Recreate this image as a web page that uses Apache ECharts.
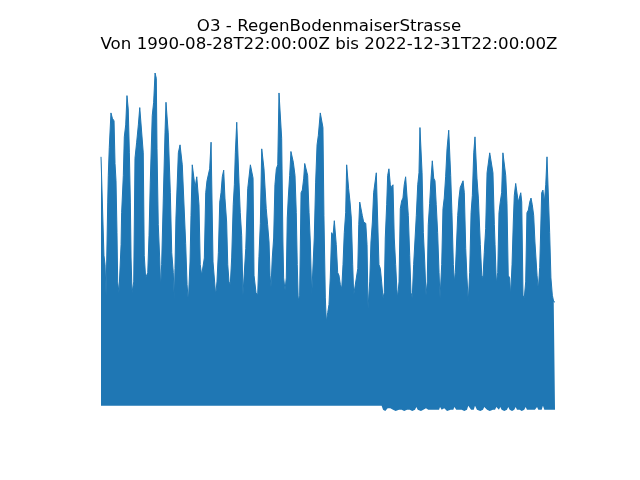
<!DOCTYPE html>
<html>
<head>
<meta charset="utf-8">
<title>O3 - RegenBodenmaiserStrasse</title>
<script src="https://cdn.jsdelivr.net/npm/echarts@6/dist/echarts.min.js"></script>
<style>
  html, body { margin: 0; padding: 0; background: #fff; }
  #chart { width: 640px; height: 480px; }
</style>
</head>
<body>
<div id="chart"></div>
<script>
var years = [
  1990.66, 1990.75, 1990.87, 1990.95, 1991.02, 1991.09, 1991.14, 1991.18, 1991.25, 1991.37,
  1991.47, 1991.59, 1991.66, 1991.73, 1991.80, 1991.85, 1991.94, 1992.01, 1992.09, 1992.13,
  1992.25, 1992.32, 1992.42, 1992.51, 1992.60, 1992.68, 1992.75, 1992.80, 1992.87, 1992.99,
  1993.08, 1993.20, 1993.32, 1993.42, 1993.56, 1993.67, 1993.74, 1993.84, 1993.99, 1994.08,
  1994.17, 1994.31, 1994.41, 1994.51, 1994.60, 1994.65, 1994.74, 1994.84, 1994.91, 1994.98,
  1995.10, 1995.22, 1995.29, 1995.38, 1995.45, 1995.60, 1995.70, 1995.81, 1995.88, 1995.93,
  1996.00, 1996.12, 1996.17, 1996.29, 1996.41, 1996.45, 1996.59, 1996.69, 1996.79, 1996.88,
  1997.00, 1997.07, 1997.16, 1997.26, 1997.36, 1997.48, 1997.59, 1997.64, 1997.73, 1997.83,
  1997.93, 1998.02, 1998.12, 1998.21, 1998.30, 1998.40, 1998.50, 1998.57, 1998.64, 1998.73,
  1998.83, 1998.92, 1999.02, 1999.12, 1999.21, 1999.30, 1999.40, 1999.49, 1999.61, 1999.69,
  1999.78, 1999.87, 1999.97, 2000.08, 2000.16, 2000.23, 2000.33, 2000.42, 2000.49, 2000.58,
  2000.68, 2000.77, 2000.87, 2000.97, 2001.11, 2001.20, 2001.30, 2001.39, 2001.49, 2001.56,
  2001.63, 2001.70, 2001.82, 2001.91, 2002.01, 2002.11, 2002.20, 2002.27, 2002.36, 2002.43,
  2002.53, 2002.63, 2002.70, 2002.77, 2002.86, 2002.96, 2003.05, 2003.15, 2003.25, 2003.34,
  2003.46, 2003.53, 2003.62, 2003.67, 2003.77, 2003.86, 2003.93, 2004.00, 2004.10, 2004.19,
  2004.29, 2004.36, 2004.48, 2004.57, 2004.64, 2004.71, 2004.81, 2004.91, 2005.00, 2005.10,
  2005.17, 2005.28, 2005.38, 2005.48, 2005.57, 2005.67, 2005.76, 2005.85, 2005.95, 2006.05,
  2006.14, 2006.28, 2006.40, 2006.47, 2006.54, 2006.64, 2006.71, 2006.81, 2006.90, 2006.99,
  2007.09, 2007.19, 2007.28, 2007.42, 2007.52, 2007.61, 2007.71, 2007.81, 2007.90, 2007.99,
  2008.09, 2008.16, 2008.23, 2008.30, 2008.40, 2008.49, 2008.59, 2008.66, 2008.80, 2008.95,
  2009.02, 2009.09, 2009.18, 2009.27, 2009.37, 2009.52, 2009.61, 2009.68, 2009.80, 2009.89,
  2009.99, 2010.08, 2010.18, 2010.27, 2010.37, 2010.46, 2010.56, 2010.65, 2010.75, 2010.84,
  2010.91, 2011.01, 2011.08, 2011.17, 2011.27, 2011.37, 2011.46, 2011.55, 2011.65, 2011.74,
  2011.79, 2011.89, 2011.98, 2012.08, 2012.17, 2012.26, 2012.36, 2012.46, 2012.55, 2012.65,
  2012.74, 2012.83, 2012.93, 2013.03, 2013.12, 2013.22, 2013.31, 2013.38, 2013.45, 2013.53,
  2013.62, 2013.72, 2013.81, 2013.90, 2013.97, 2014.07, 2014.17, 2014.26, 2014.36, 2014.45,
  2014.54, 2014.64, 2014.74, 2014.81, 2014.93, 2015.02, 2015.11, 2015.21, 2015.31, 2015.43,
  2015.50, 2015.57, 2015.66, 2015.76, 2015.83, 2015.90, 2015.97, 2016.07, 2016.16, 2016.25,
  2016.35, 2016.45, 2016.54, 2016.64, 2016.73, 2016.82, 2016.92, 2017.02, 2017.11, 2017.21,
  2017.30, 2017.39, 2017.44, 2017.54, 2017.68, 2017.78, 2017.87, 2017.96, 2018.06, 2018.16,
  2018.25, 2018.35, 2018.49, 2018.58, 2018.68, 2018.73, 2018.82, 2018.92, 2019.01, 2019.10,
  2019.20, 2019.29, 2019.39, 2019.49, 2019.58, 2019.67, 2019.77, 2019.84, 2019.94, 2020.03,
  2020.10, 2020.20, 2020.29, 2020.38, 2020.48, 2020.56, 2020.63, 2020.72, 2020.81, 2020.91,
  2021.00, 2021.10, 2021.20, 2021.29, 2021.38, 2021.48, 2021.57, 2021.72, 2021.81, 2021.91,
  2022.05, 2022.14, 2022.24, 2022.34, 2022.43, 2022.52, 2022.62, 2022.71, 2022.81, 2022.91,
  2023.00
];

// obere Huellkurve O3 (ug/m3)
var o3Max = [
  191, 191, 117, 110, 87, 127, 157, 177, 198, 224,
  220, 218, 186, 173, 134, 97, 89, 89, 125, 149,
  177, 206, 215, 237, 227, 194, 157, 115, 89, 97,
  190, 202, 215, 228, 228, 194, 117, 100, 104, 132,
  172, 222, 232, 254, 250, 197, 140, 115, 92, 110,
  160, 209, 232, 231, 209, 164, 119, 104, 83, 107,
  145, 146, 194, 200, 200, 185, 185, 126, 95, 82,
  112, 147, 185, 186, 168, 176, 177, 155, 110, 102,
  101, 115, 164, 173, 172, 182, 202, 202, 112, 112,
  87, 97, 119, 157, 164, 176, 181, 160, 142, 110,
  97, 95, 115, 155, 170, 194, 217, 217, 172, 149,
  132, 87, 86, 122, 167, 168, 185, 185, 175, 102,
  102, 89, 87, 116, 141, 197, 197, 182, 181, 152,
  140, 127, 102, 93, 115, 130, 170, 182, 185, 239,
  239, 205, 127, 100, 91, 100, 145, 160, 177, 195,
  195, 187, 177, 149, 110, 83, 87, 164, 166, 175,
  186, 185, 177, 149, 127, 87, 87, 130, 172, 200,
  207, 224, 224, 213, 147, 85, 67, 74, 80, 100,
  134, 132, 143, 125, 104, 102, 95, 92, 110, 134,
  149, 185, 185, 167, 157, 145, 110, 87, 87, 107,
  140, 157, 158, 147, 142, 141, 125, 77, 97, 127,
  142, 164, 164, 179, 179, 110, 107, 97, 85, 89,
  130, 155, 177, 182, 170, 168, 170, 130, 110, 91,
  85, 97, 152, 158, 160, 170, 176, 175, 147, 117,
  89, 85, 110, 111, 147, 170, 179, 213, 213, 179,
  134, 112, 87, 97, 140, 156, 175, 188, 175, 173,
  155, 134, 104, 85, 110, 152, 160, 176, 197, 211,
  211, 177, 149, 110, 97, 104, 104, 147, 160, 168,
  168, 173, 164, 122, 100, 82, 104, 149, 162, 194,
  206, 206, 175, 160, 125, 102, 100, 119, 137, 179,
  179, 194, 195, 179, 140, 125, 96, 104, 149, 157,
  164, 194, 195, 177, 156, 102, 100, 87, 110, 142,
  162, 171, 170, 157, 157, 164, 157, 87, 85, 97,
  149, 151, 157, 160, 155, 147, 127, 102, 91, 108,
  164, 166, 157, 170, 191, 190, 134, 100, 87, 82,
  82
];

// untere Huellkurve O3 (ug/m3)
var o3Min = [
  4, 4, 4, 4, 4, 4, 4, 4, 4, 4,
  4, 4, 4, 4, 4, 4, 4, 4, 4, 4,
  4, 4, 4, 4, 4, 4, 4, 4, 4, 4,
  4, 4, 4, 4, 4, 4, 4, 4, 4, 4,
  4, 4, 4, 4, 4, 4, 4, 4, 4, 4,
  4, 4, 4, 4, 4, 4, 4, 4, 4, 4,
  4, 4, 4, 4, 4, 4, 4, 4, 4, 4,
  4, 4, 4, 4, 4, 4, 4, 4, 4, 4,
  4, 4, 4, 4, 4, 4, 4, 4, 4, 4,
  4, 4, 4, 4, 4, 4, 4, 4, 4, 4,
  4, 4, 4, 4, 4, 4, 4, 4, 4, 4,
  4, 4, 4, 4, 4, 4, 4, 4, 4, 4,
  4, 4, 4, 4, 4, 4, 4, 4, 4, 4,
  4, 4, 4, 4, 4, 4, 4, 4, 4, 4,
  4, 4, 4, 4, 4, 4, 4, 4, 4, 4,
  4, 4, 4, 4, 4, 4, 4, 4, 4, 4,
  4, 4, 4, 4, 4, 4, 4, 4, 4, 4,
  4, 4, 4, 4, 4, 4, 4, 4, 4, 4,
  4, 4, 4, 4, 4, 4, 4, 4, 4, 4,
  4, 4, 4, 4, 4, 4, 4, 4, 4, 4,
  4, 4, 4, 4, 4, 4, 4, 4, 4, 4,
  4, 4, 4, 4, 4, 4, 4, 4, 1, 0,
  0, 1, 2, 2, 2, 1, 1, 1, 0, 1,
  1, 1, 2, 1, 1, 0, 1, 1, 0, 1,
  1, 0, 1, 1, 3, 1, 1, 1, 0, 1,
  1, 1, 2, 1, 1, 2, 1, 0, 1, 1,
  1, 1, 1, 3, 1, 1, 2, 1, 0, 1,
  1, 1, 0, 1, 3, 1, 1, 2, 1, 1,
  1, 1, 0, 1, 1, 4, 1, 1, 0, 1,
  4, 1, 1, 1, 0, 1, 1, 3, 1, 1,
  1, 0, 1, 1, 1, 1, 3, 1, 1, 3,
  1, 1, 0, 1, 1, 3, 1, 1, 0, 1,
  1, 3, 1, 1, 1, 1, 0, 1, 1, 3,
  1, 1, 1, 0, 1, 1, 1, 3, 1, 1,
  1, 4, 1, 1, 1, 0, 1, 1, 1, 1,
  1
];

var titleText = 'O3 - RegenBodenmaiserStrasse\nVon 1990-08-28T22:00:00Z bis 2022-12-31T22:00:00Z';

// Dezimaljahr -> Zeitstempel
function toTime(y) {
  var yr = Math.floor(y);
  var s = Date.UTC(yr, 0, 1), e = Date.UTC(yr + 1, 0, 1);
  return s + (y - yr) * (e - s);
}

var baseData = [];
var bandData = [];
years.forEach(function (y, i) {
  var t = toTime(y);
  baseData.push([t, o3Min[i]]);
  bandData.push([t, o3Max[i] - o3Min[i]]);
});

var myChart = echarts.init(document.getElementById('chart'));
var option = {
  backgroundColor: '#fff',
  animation: false,
  title: {
    text: titleText,
    left: 324,
    top: 12,
    textAlign: 'center',
    textStyle: {
      fontFamily: 'DejaVu Sans',
      fontSize: 16.67,
      fontWeight: 'normal',
      color: '#000',
      lineHeight: 18.5
    }
  },
  grid: { left: 101, right: 85, top: 73, bottom: 69 },
  xAxis: {
    type: 'time',
    min: 'dataMin',
    max: 'dataMax',
    show: false
  },
  yAxis: {
    type: 'value',
    min: 0,
    max: 254,
    show: false
  },
  series: [
    {
      name: 'base',
      type: 'line',
      stack: 'o3',
      data: baseData,
      symbol: 'none',
      clip: false,
      lineStyle: { opacity: 0 }
    },
    {
      name: 'O3',
      type: 'line',
      stack: 'o3',
      data: bandData,
      symbol: 'none',
      clip: false,
      lineStyle: { color: '#1f77b4', width: 1 },
      areaStyle: { color: '#1f77b4', opacity: 1 }
    }
  ]
};
myChart.setOption(option);
</script>
</body>
</html>
